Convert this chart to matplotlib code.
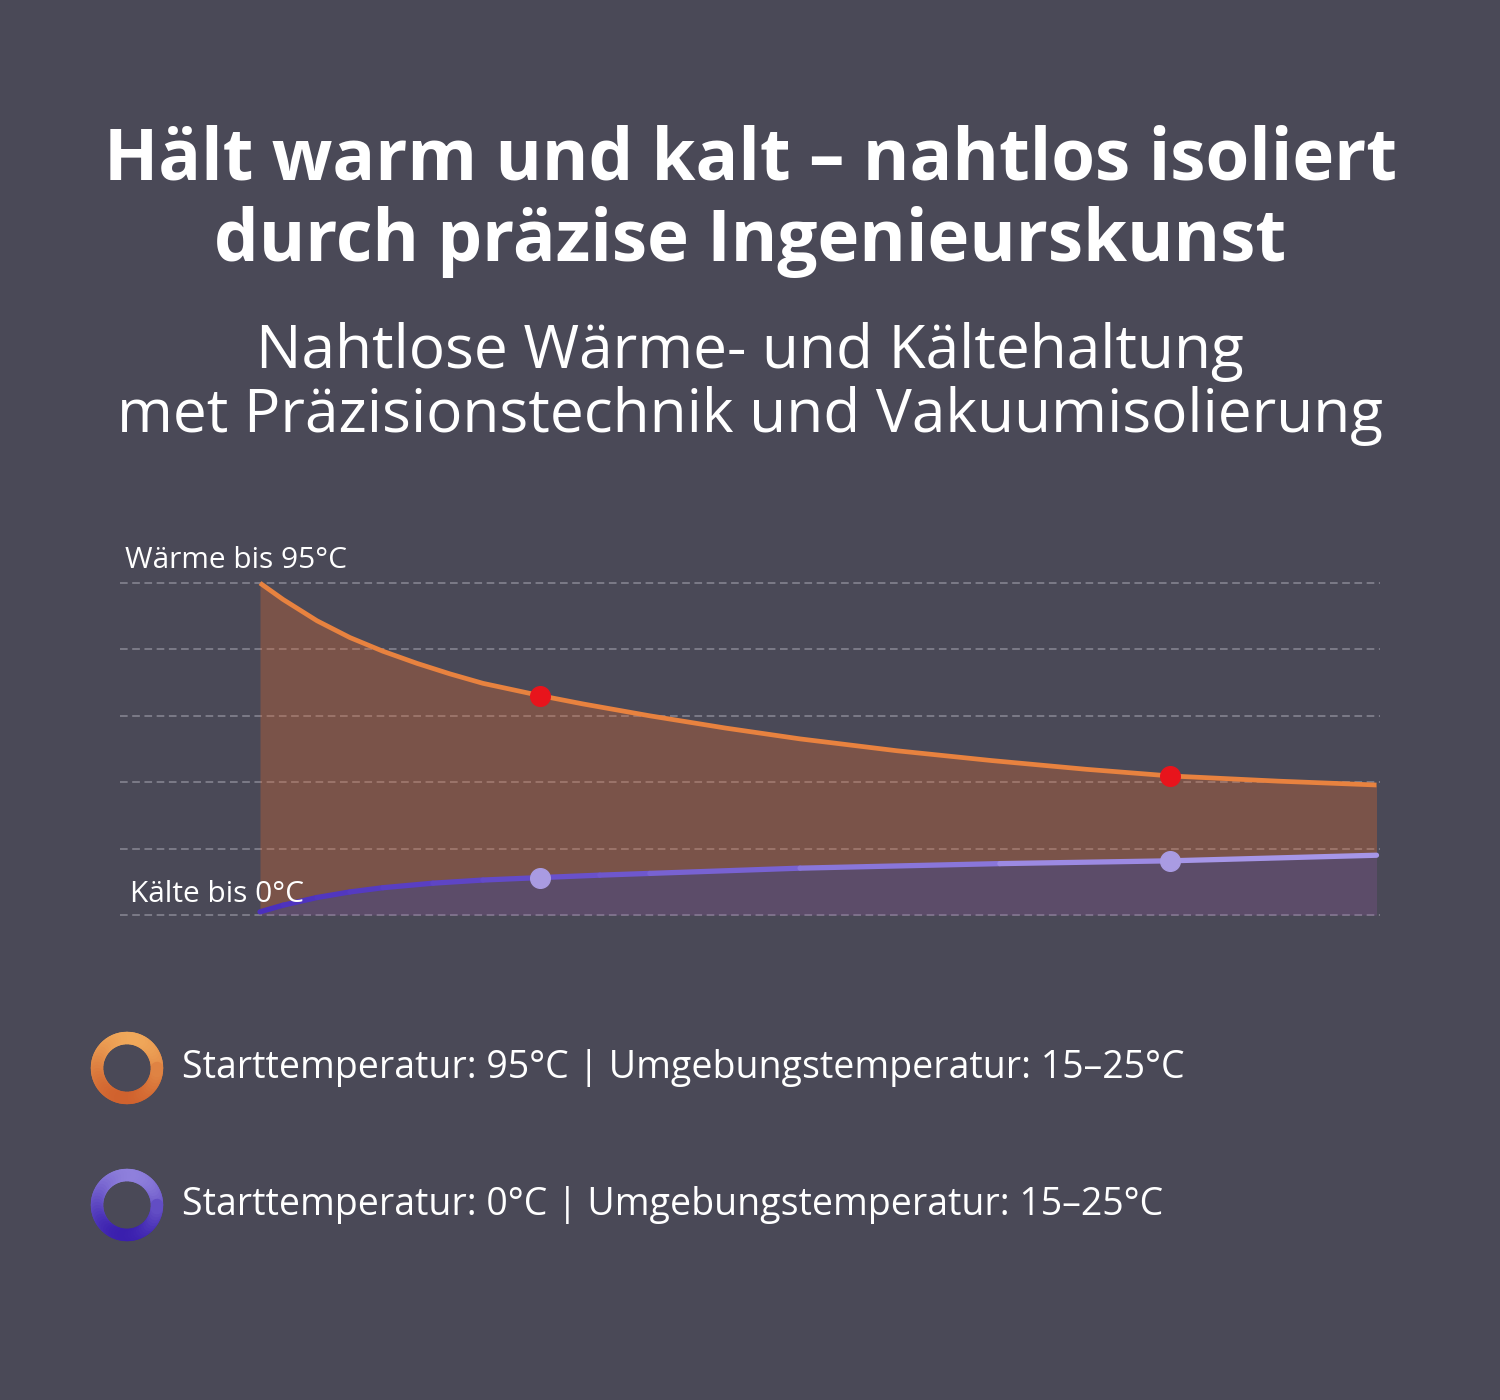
import numpy as np
import matplotlib
matplotlib.use('Agg')
import matplotlib.pyplot as plt
from matplotlib.collections import LineCollection
from matplotlib.colors import to_rgb

# data (time in arbitrary units, temperature in deg C)
warm_t = [0, 0.66, 1.63, 2.57, 3.51, 4.49, 5.43, 6.37, 8.0, 9.23, 11.14,
          13.3, 15.43, 18.2, 20.9, 23.6, 26.0, 29.1, 31.9]
warm_temp = [95, 90.3, 84.2, 79.4, 75.5, 72.0, 69.0, 66.3, 62.8, 60.4, 57.0,
             53.5, 50.4, 47.0, 44.2, 41.7, 39.8, 38.3, 37.2]
cold_t = [0, 0.66, 1.63, 2.57, 3.51, 4.94, 6.37, 8.0, 9.71, 11.14, 15.43,
          21.14, 26.0, 31.9]
cold_temp = [0.9, 2.8, 5.0, 6.6, 7.8, 9.1, 10.0, 10.7, 11.4, 11.9, 13.4,
             14.7, 15.5, 17.1]
marker_t = [8.0, 26.0]
warm_marker = [62.8, 39.8]
cold_marker = [10.7, 15.5]
grid_levels = [0, 19, 38, 57, 76, 95]

title = 'Hält warm und kalt – nahtlos isoliert\ndurch präzise Ingenieurskunst'
subtitle = 'Nahtlose Wärme- und Kältehaltung\nmet Präzisionstechnik und Vakuumisolierung'
legend_labels = ['Starttemperatur: 95°C | Umgebungstemperatur: 15–25°C',
                 'Starttemperatur: 0°C | Umgebungstemperatur: 15–25°C']

bg = '#4a4957'
W, H = 1500, 1400
fig = plt.figure(figsize=(15, 14), dpi=100, facecolor=bg)

# overlay axes in pixel coordinates for text and legend icons
ov = fig.add_axes([0, 0, 1, 1])
ov.set_xlim(0, W)
ov.set_ylim(H, 0)
ov.axis('off')
ov.set_zorder(0)

font = 'Open Sans'
ov.text(750, 201, title, ha='center', va='center', fontsize=51, fontweight='bold',
        color='white', family=font, linespacing=1.17)
ov.text(750, 384, subtitle, ha='center', va='center', fontsize=43.5, color='white',
        family=font, linespacing=1.08)

# chart axes
px_l, px_r, px_t, px_b = 120, 1380, 560, 930
ax = fig.add_axes([px_l / W, 1 - px_b / H, (px_r - px_l) / W, (px_b - px_t) / H])
ax.set_facecolor('none')
ax.set_zorder(1)
ax.set_xlim(-4, 32)
ax.set_ylim(-4.3, 101.6)
ax.axis('off')

for g in grid_levels:
    ax.axhline(g, color='#c9c8d2', lw=1.1, ls=(0, (5, 3)), alpha=0.5, zorder=1)

wt = np.array(warm_t)
wv = np.array(warm_temp)
ct = np.array(cold_t)
cv = np.array(cold_temp)
cold_on_warm = np.interp(wt, ct, cv)
ax.fill_between(wt, cold_on_warm, wv, color='#e0692e', alpha=0.32, lw=0, zorder=2)
ax.fill_between(ct, 0, cv, color='#6a4fc8', alpha=0.22, lw=0, zorder=2)
ax.fill_between(ct, 0, cv, color='#e0692e', alpha=0.08, lw=0, zorder=2)

ax.plot(wt, wv, color='#e8823f', lw=3.4, zorder=4, solid_capstyle='butt',
        solid_joinstyle='round')

# purple line getting lighter to the right
pts = np.column_stack([ct, cv]).reshape(-1, 1, 2)
segs = np.concatenate([pts[:-1], pts[1:]], axis=1)
c0 = np.array(to_rgb('#4a2fbc'))
c1 = np.array(to_rgb('#a696e8'))
fr = ((ct[:-1] + ct[1:]) / 2 - ct.min()) / (ct.max() - ct.min())
cols = [c0 + (c1 - c0) * min(1, f * 1.2) for f in fr]
ax.add_collection(LineCollection(segs, colors=cols, linewidths=3.8, zorder=4,
                                 joinstyle='round', capstyle='round'))

ax.scatter(marker_t, warm_marker, s=200, color='#e8141c', zorder=5, clip_on=False)
ax.scatter(marker_t, cold_marker, s=200, color='#a99be2', zorder=5, clip_on=False)

ax.text(125, 560, 'Wärme bis 95°C', ha='left', va='center', fontsize=21.5,
        color='white', family=font, transform=ov.transData, zorder=6)
ax.text(130, 895, 'Kälte bis 0°C', ha='left', va='center', fontsize=21.5,
        color='white', family=font, transform=ov.transData, zorder=6)

# legend: gradient rings
ring_tops = ['#f0a85a', '#8f80dc']
ring_bottoms = ['#d0622e', '#3a1fae']
ang = np.linspace(0, 2 * np.pi, 61)
for i, (lab, ctop, cbot) in enumerate(zip(legend_labels, ring_tops, ring_bottoms)):
    y = 1068 + i * 137
    xs = 127 + 30 * np.cos(ang)
    ys = y - 30 * np.sin(ang)
    rp = np.column_stack([xs, ys]).reshape(-1, 1, 2)
    rs = np.concatenate([rp[:-1], rp[1:]], axis=1)
    a0 = np.array(to_rgb(ctop))
    a1 = np.array(to_rgb(cbot))
    mid = (np.sin(ang[:-1]) + np.sin(ang[1:])) / 2
    rc = [a0 + (a1 - a0) * (1 - m) / 2 for m in mid]
    ov.add_collection(LineCollection(rs, colors=rc, linewidths=9, zorder=3,
                                     capstyle='round'))
    ov.text(182, y, lab, ha='left', va='center', fontsize=27, color='white', family=font)

fig.savefig('out.png', dpi=100, facecolor=bg)
